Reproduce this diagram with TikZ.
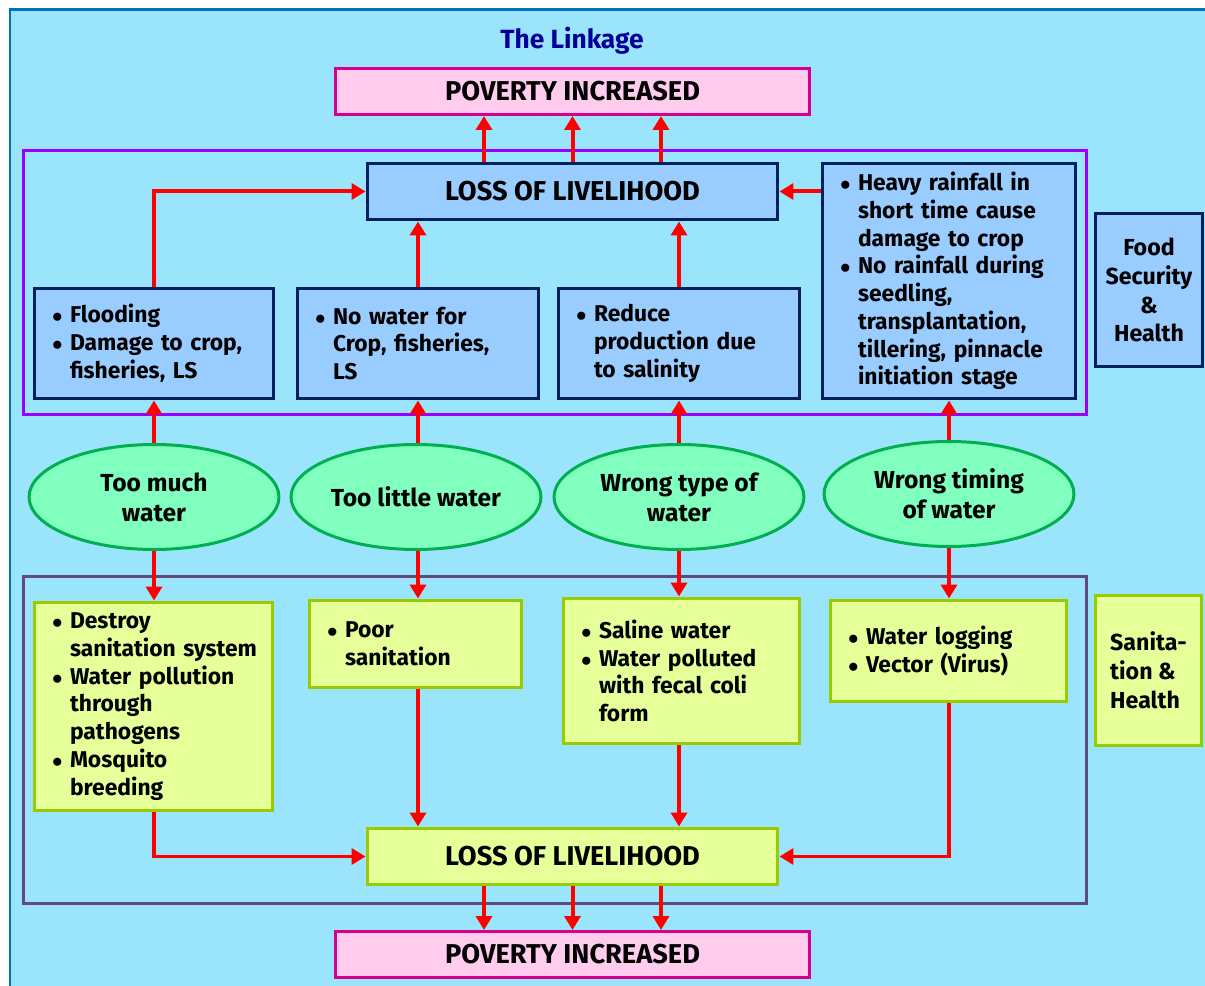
\documentclass[tikz,border=0pt]{standalone}
\usepackage{fontspec}
\setmainfont{Fira Sans}
\usetikzlibrary{arrows.meta}
\usetikzlibrary{shapes.geometric}
\usetikzlibrary{calc}

\definecolor{skybg}{HTML}{9BE5FC}
\definecolor{outerline}{HTML}{0070C0}
\definecolor{topframe}{HTML}{9900FF}
\definecolor{lowframe}{HTML}{604A7B}
\definecolor{povfill}{HTML}{FFCCEE}
\definecolor{povline}{HTML}{D6008C}
\definecolor{bluefill}{HTML}{99CCFF}
\definecolor{blueline}{HTML}{002060}
\definecolor{greenfill}{HTML}{E5FF99}
\definecolor{greenline}{HTML}{99CC00}
\definecolor{ovalfill}{HTML}{80FFBF}
\definecolor{ovalline}{HTML}{00B050}
\definecolor{arrred}{HTML}{FF0000}
\definecolor{titleblue}{HTML}{000099}

% bullet line with hanging indent
\newcommand{\bpt}[1]{\noindent\hyphenpenalty=10000\relax\leftskip=0.12cm\relax
  \hangindent=0.36cm\relax\hangafter=1\relax\makebox[0.36cm][l]{$\bullet$}#1\par}

\begin{document}
\begin{tikzpicture}[x=0.02cm, y=-0.02cm,
    head/.style={rectangle, line width=0.06cm, inner sep=0pt,
      font=\fontsize{15.5}{18}\selectfont\bfseries},
    povbox/.style={head, draw=povline, fill=povfill, minimum width=9.5cm, minimum height=0.92cm},
    lossblue/.style={head, draw=blueline, fill=bluefill, minimum width=8.22cm, minimum height=1.14cm},
    lossgreen/.style={head, draw=greenline, fill=greenfill, minimum width=8.22cm, minimum height=1.14cm},
    itembox/.style={rectangle, line width=0.06cm, inner xsep=0.24cm, inner ysep=0pt, align=left,
      font=\fontsize{13}{15.8}\selectfont\bfseries},
    bluebox/.style={itembox, draw=blueline, fill=bluefill},
    greenbox/.style={itembox, draw=greenline, fill=greenfill},
    sidebox/.style={rectangle, line width=0.06cm, inner sep=0pt,
      font=\fontsize{13.2}{16.4}\selectfont\bfseries},
    oval/.style={ellipse, draw=ovalline, fill=ovalfill, line width=0.06cm, inner sep=0pt,
      minimum width=5cm, minimum height=2.1cm, align=center,
      font=\fontsize{14}{17}\selectfont\bfseries},
    frame/.style={rectangle, line width=0.06cm, inner sep=0pt},
    arr/.style={draw=arrred, line width=0.08cm, -{Triangle[width=0.32cm,length=0.28cm]}}]

  \useasboundingbox (0,0) rectangle (1205,986);

  % background and outer border
  \fill[skybg] (10,10) rectangle (1205,986);
  \draw[outerline, line width=0.06cm] (10,986) -- (10,10) -- (1205,10);

  % group frames
  \node[frame, draw=topframe, minimum width=21.28cm, minimum height=5.3cm] (food frame) at (555,282.5) {};
  \node[frame, draw=lowframe, minimum width=21.28cm, minimum height=6.56cm] (san frame) at (555,740) {};

  % title and top
  \node[font=\fontsize{15}{18}\selectfont\bfseries, text=titleblue] (title) at (572,41) {The Linkage};
  \node[povbox] (povA) at (572.5,91.5) {POVERTY INCREASED};
  \node[lossblue] (lossA) at (572.5,191.5) {LOSS OF LIVELIHOOD};

  % food security boxes
  \node[bluebox, minimum width=4.8cm, text width=4.32cm, minimum height=2.22cm] (b1) at (154,343.5)
    {\bpt{Flooding}\bpt{Damage to crop,\newline fisheries, LS}};
  \node[bluebox, minimum width=4.84cm, text width=4.36cm, minimum height=2.22cm] (b2) at (418,343.5)
    {\bpt{No water for\newline Crop, fisheries,\newline LS}};
  \node[bluebox, minimum width=4.84cm, text width=4.36cm, minimum height=2.22cm] (b3) at (679,343.5)
    {\bpt{Reduce\newline production due\newline to salinity}};
  \node[bluebox, minimum width=5.08cm, text width=4.6cm, minimum height=4.72cm] (b4) at (949,281)
    {\bpt{Heavy rainfall in\newline short time cause\newline damage to crop}\bpt{No rainfall during\newline seedling,\newline transplantation,\newline tillering, pinnacle\newline initiation stage}};
  \node[sidebox, draw=blueline, fill=bluefill, minimum width=2.16cm, minimum height=3.08cm, align=center] (food) at (1149,290)
    {Food\\Security\\\&\\Health};

  % the four water problems
  \node[oval] (e1) at (154,497) {Too much\\water};
  \node[oval] (e2) at (416,497) {Too little water};
  \node[oval] (e3) at (679,497) {Wrong type of\\water};
  \node[oval] (e4) at (949,494) {Wrong timing\\of water};

  % sanitation boxes
  \node[greenbox, minimum width=4.78cm, text width=4.3cm, minimum height=4.18cm] (g1) at (153.5,706.5)
    {\bpt{Destroy\newline sanitation system}\bpt{Water pollution\newline through\newline pathogens}\bpt{Mosquito\newline breeding}};
  \node[greenbox, minimum width=4.26cm, text width=3.78cm, minimum height=1.76cm] (g2) at (415.5,644)
    {\bpt{Poor\newline sanitation}};
  \node[greenbox, minimum width=4.74cm, text width=4.26cm, minimum height=2.92cm] (g3) at (681.5,671)
    {\bpt{Saline water}\bpt{Water polluted\newline with fecal coli\newline form}};
  \node[greenbox, minimum width=4.74cm, text width=4.26cm, minimum height=2.04cm] (g4) at (948.5,651)
    {\bpt{Water logging}\bpt{Vector (Virus)}};
  \node[sidebox, draw=greenline, fill=greenfill, minimum width=2.14cm, minimum height=3.02cm, align=left] (san) at (1148.5,670.5)
    {Sanita-\\tion \&\\Health};

  % bottom
  \node[lossgreen] (lossB) at (572.5,856.5) {LOSS OF LIVELIHOOD};
  \node[povbox] (povB) at (572.5,954.5) {POVERTY INCREASED};

  % arrows up to poverty and down to poverty
  \foreach \dx in {-1.77,0,1.77} {
    \draw[arr] ([xshift=\dx cm]lossA.north) -- ([xshift=\dx cm]povA.south);
    \draw[arr] ([xshift=\dx cm]lossB.south) -- ([xshift=\dx cm]povB.north);
  }

  % food security side
  \draw[arr] (b1.north) |- (lossA.west);
  \draw[arr] (b2.north) -- (b2.north |- lossA.south);
  \draw[arr] (b3.north) -- (b3.north |- lossA.south);
  \draw[arr] (b4.west |- lossA) -- (lossA.east);
  \foreach \n in {1,2,3,4} {
    \draw[arr] (e\n.north -| b\n.south) -- (b\n.south);
  }

  % sanitation side
  \draw[arr] (e1.south) -- (e1.south |- g1.north);
  \draw[arr] ($(e2.south -| g2.north)+(2.5,0)$) -- ($(g2.north)+(2.5,0)$);
  \draw[arr] (e3.south) -- (e3.south |- g3.north);
  \draw[arr] (e4.south) -- (e4.south |- g4.north);
  \draw[arr] (g1.south) |- (lossB.west);
  \draw[arr] ($(g2.south)+(2.5,0)$) -- ($(g2.south |- lossB.north)+(2.5,0)$);
  \draw[arr] (e3.south |- g3.south) -- (e3.south |- lossB.north);
  \draw[arr] (g4.south) |- (lossB.east);

\end{tikzpicture}
\end{document}
